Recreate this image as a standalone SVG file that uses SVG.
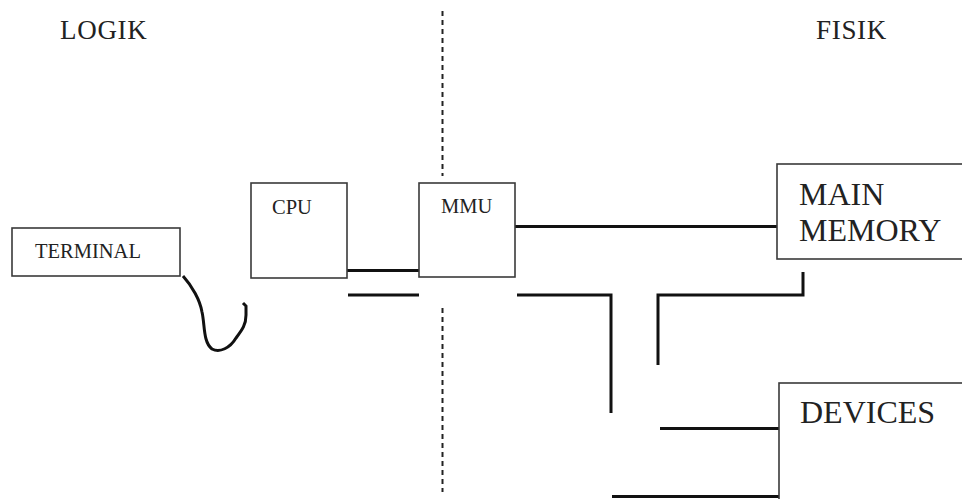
<svg xmlns="http://www.w3.org/2000/svg" width="962" height="499" viewBox="0 0 962 499">
  <style>
    .box { fill: #ffffff; stroke: #3a3a3a; stroke-width: 1.6; }
    .lbl { font-family: "Liberation Serif", "Times New Roman", serif; fill: #222222; }
    .wire { fill: none; stroke: #111111; stroke-width: 3; stroke-linecap: butt; stroke-linejoin: miter; }
    .divider { fill: none; stroke: #222222; stroke-width: 2; stroke-dasharray: 5 4; }
  </style>
  <rect x="0" y="0" width="962" height="499" fill="#ffffff"/>

  <g id="headings">
    <text class="lbl" x="60" y="39" font-size="27" letter-spacing="0.7">LOGIK</text>
    <text class="lbl" x="816" y="39" font-size="27" letter-spacing="0.7">FISIK</text>
  </g>

  <g id="divider">
    <line class="divider" x1="442.5" y1="11" x2="442.5" y2="176"/>
    <line class="divider" x1="442.5" y1="308" x2="442.5" y2="492"/>
  </g>

  <g id="connectors">
    <path class="wire" d="M183,276 C192,286 200,300 202,312 C205,325 203,342 212,349 C220,353 230,348 236,338 C242,330 246,325 246,315 L246,306 L243,303"/>
    <line class="wire" x1="347" y1="270.5" x2="419" y2="270.5"/>
    <line class="wire" x1="348" y1="295" x2="419" y2="295"/>
    <line class="wire" x1="515" y1="226.5" x2="777" y2="226.5"/>
    <polyline class="wire" points="517,295 611,295 611,413"/>
    <polyline class="wire" points="658,365 658,295 803,295 803,272"/>
    <line class="wire" x1="660" y1="428.5" x2="779" y2="428.5"/>
    <line class="wire" x1="612" y1="496.5" x2="779" y2="496.5"/>
  </g>

  <g id="terminal">
    <rect class="box" x="12" y="228" width="168" height="48"/>
    <text class="lbl" x="35" y="258" font-size="20.5">TERMINAL</text>
  </g>

  <g id="cpu">
    <rect class="box" x="251" y="183" width="96" height="95"/>
    <text class="lbl" x="272" y="214" font-size="20.5">CPU</text>
  </g>

  <g id="mmu">
    <rect class="box" x="419" y="183" width="96" height="94"/>
    <text class="lbl" x="441" y="213" font-size="20.5">MMU</text>
  </g>

  <g id="main-memory">
    <rect class="box" x="777" y="164" width="220" height="95"/>
    <text class="lbl" x="799" y="205" font-size="32">MAIN</text>
    <text class="lbl" x="799" y="241" font-size="32">MEMORY</text>
  </g>

  <g id="devices">
    <rect class="box" x="779" y="383" width="220" height="160"/>
    <text class="lbl" x="800" y="423" font-size="32">DEVICES</text>
  </g>
</svg>
